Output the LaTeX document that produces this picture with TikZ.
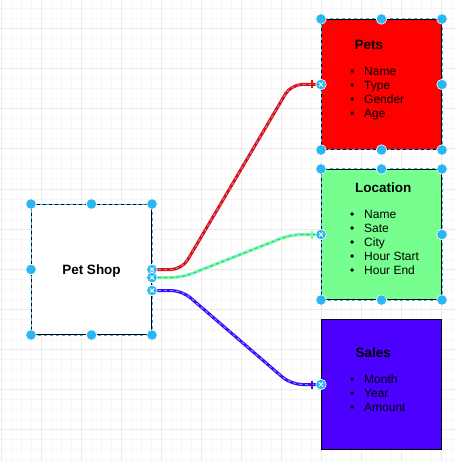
\documentclass[tikz,border=0pt]{standalone}
\usepackage{fontspec}
\setmainfont{Liberation Sans}
\usetikzlibrary{calc}

\definecolor{petred}{HTML}{FF0000}
\definecolor{locgreen}{HTML}{76FF8F}
\definecolor{salesblue}{HTML}{4C00FF}
\definecolor{sel}{HTML}{29B6F2}
\definecolor{gridminor}{HTML}{F7F7F7}
\definecolor{gridmajor}{HTML}{EBEBEB}

\begin{document}
\begin{tikzpicture}[x=1pt,y=-1pt,
  entity/.style={draw=black, line width=1pt, minimum width=120pt, minimum height=130pt,
    inner sep=0pt, anchor=north west},
  selbox/.style={draw=sel, line width=1pt, dash pattern=on 3pt off 3pt},
  titletext/.style={font=\fontsize{13.5}{16}\selectfont\bfseries, inner sep=0pt, anchor=base west},
  itemtext/.style={font=\fontsize{12}{14}\selectfont, inner sep=0pt, anchor=base west},
  relation/.style={draw=#1, line width=3pt, rounded corners=11pt,
    postaction={draw=sel, line width=1pt, dash pattern=on 3pt off 3pt}},
  onebar/.style={draw=#1, line width=2pt},
  handle/.style={circle, fill=sel, draw=white, line width=0.6pt, minimum size=10.5pt, inner sep=0pt},
  endpoint/.style={handle, path picture={
    \draw[white, line width=0.9pt]
      ([shift={(-2pt,-2pt)}]path picture bounding box.center) -- ([shift={(2pt,2pt)}]path picture bounding box.center)
      ([shift={(-2pt,2pt)}]path picture bounding box.center) -- ([shift={(2pt,-2pt)}]path picture bounding box.center);}}
]
\useasboundingbox (0,0) rectangle (457,462);
\fill[white] (0,0) rectangle (457,462);

% background grid
\foreach \x in {1,11,...,451} \draw[gridminor, line width=1pt] (\x,0) -- (\x,462);
\foreach \y in {9,19,...,459} \draw[gridminor, line width=1pt] (0,\y) -- (457,\y);
\foreach \x in {1,41,...,441} \draw[gridmajor, line width=1pt] (\x,0) -- (\x,462);
\foreach \y in {29,69,...,449} \draw[gridmajor, line width=1pt] (0,\y) -- (457,\y);

% entities
\node[entity, fill=white, font=\fontsize{13.5}{16}\selectfont\bfseries, text depth=0pt] (shop) at (31,204) {Pet Shop};
\node[entity, fill=petred] (pets) at (321,19) {};
\node[entity, fill=locgreen] (loc) at (321,169) {};
\node[entity, fill=salesblue] (sales) at (321,319) {};

% selection outlines
\draw[selbox] (shop.north west) rectangle (shop.south east);
\draw[selbox] (pets.north west) rectangle (pets.south east);
\draw[selbox] (loc.north west) rectangle (loc.south east);

% entity contents
\node[titletext] (petsT) at (354.5,50) {Pets};
\foreach \t [count=\i] in {Name,Type,Gender,Age}
  \node[itemtext] (pets-\i) at (350,{76+14*(\i-1)}) {\makebox[14pt][l]{•}\t};

\node[titletext] (locT) at (355,193) {Location};
\foreach \t [count=\i] in {Name,Sate,City,Hour Start,Hour End}
  \node[itemtext] (loc-\i) at (350,{218.5+14*(\i-1)}) {\makebox[14pt][l]{•}\t};

\node[titletext] (salesT) at (355.5,357) {Sales};
\foreach \t [count=\i] in {Month,Year,Amount}
  \node[itemtext] (sales-\i) at (350,{383.5+14*(\i-1)}) {\makebox[14pt][l]{•}\t};

% relations
\coordinate (s1) at (shop.east);
\coordinate (s2) at ([yshift=-8pt]shop.east);
\coordinate (s3) at ([yshift=-21pt]shop.east);

\draw[relation=petred] (s1) -- ++(30,0) -- ($(pets.west)+(-30,0)$) -- (pets.west);
\draw[relation=locgreen] (s2) -- ++(30,0) -- ($(loc.west)+(-30,0)$) -- (loc.west);
\draw[relation=salesblue] (s3) -- ++(30,0) -- ($(sales.west)+(-30,0)$) -- (sales.west);

\draw[onebar=petred] ($(pets.west)+(-9,-4)$) -- ($(pets.west)+(-9,4)$);
\draw[onebar=locgreen] ($(loc.west)+(-9,-4)$) -- ($(loc.west)+(-9,4)$);
\draw[onebar=salesblue] ($(sales.west)+(-9,-4)$) -- ($(sales.west)+(-9,4)$);

% resize handles
\foreach \a in {north west,north,north east,west,south west,south,south east}
  \node[handle] (hs-\a) at (shop.\a) {};
\foreach \a in {north west,north,north east,east,south west,south,south east}
  \node[handle] (hp-\a) at (pets.\a) {};
\foreach \a in {north west,north,north east,east,south west,south,south east}
  \node[handle] (hl-\a) at (loc.\a) {};

% connection end points
\node[endpoint] (e1) at (s1) {};
\node[endpoint] (e2) at (s2) {};
\node[endpoint] (e3) at (s3) {};
\node[endpoint] (e4) at (pets.west) {};
\node[endpoint] (e5) at (loc.west) {};
\node[endpoint] (e6) at (sales.west) {};
\end{tikzpicture}
\end{document}
